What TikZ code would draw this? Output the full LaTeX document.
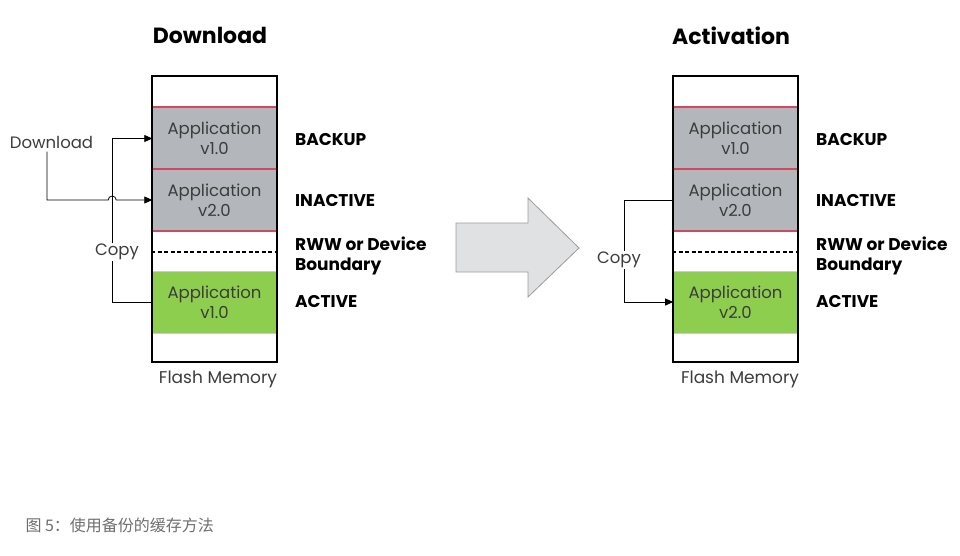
\documentclass[tikz,border=0pt]{standalone}
\usepackage{fontspec}
\setmainfont{Poppins}
\newfontfamily\cjkfont{Noto Sans CJK SC}
\usetikzlibrary{calc,arrows.meta}
\definecolor{blockgrey}{HTML}{B3B6BA}
\definecolor{blockgreen}{HTML}{8ECE4E}
\definecolor{partline}{HTML}{D2495F}
\definecolor{bodytext}{HTML}{3C3C3C}
\definecolor{arrowfill}{HTML}{DFE1E3}
\definecolor{arrowdraw}{HTML}{9A9C9E}
\definecolor{captiontext}{HTML}{6E6E6E}
\tikzstyle{flashbox} = [
    draw=black,
    line width=2pt,
    minimum width=125pt,
    minimum height=286pt,
    inner sep=0pt
    ]
\tikzstyle{appblock} = [
    minimum width=124pt,
    minimum height=62pt,
    inner sep=0pt,
    align=center,
    text=bodytext,
    font=\fontsize{16.5}{20}\selectfont
    ]
\tikzstyle{greyblock} = [appblock, fill=blockgrey]
\tikzstyle{greenblock} = [appblock, fill=blockgreen, draw=black!20, line width=0.6pt]
\tikzstyle{redline} = [draw=partline, line width=1.6pt]
\tikzstyle{boundary} = [draw=black, line width=1.8pt, dash pattern=on 4pt off 2.5pt]
\tikzstyle{statelabel} = [
    anchor=west,
    inner sep=0pt,
    align=left,
    font=\bfseries\fontsize{17}{20}\selectfont
    ]
\tikzstyle{fancytitle} = [font=\bfseries\fontsize{22}{24}\selectfont]
\tikzstyle{plaintext} = [text=bodytext, font=\fontsize{16.5}{18}\selectfont]
\tikzstyle{conn} = [draw=black, line width=0.8pt, -{Triangle[length=8pt,width=7pt]}]

\begin{document}
\begin{tikzpicture}[x=1pt,y=-1pt]
\useasboundingbox (0,0) rectangle (960,556);

% Download side
\node[fancytitle] (dltitle) at (210,35) {Download};
\node[flashbox] (dlbox) at (214.5,219) {};
\node[greyblock] (dlbackup) at (214.5,138.5) {Application\\v1.0};
\node[greyblock] (dlinactive) at (214.5,200) {Application\\v2.0};
\node[greenblock] (dlactive) at (214.5,302) {Application\\v1.0};
\draw[redline] (dlbackup.north west) -- (dlbackup.north east);
\draw[redline] (dlinactive.north west) -- (dlinactive.north east);
\draw[redline] (dlinactive.south west) -- (dlinactive.south east);
\draw[boundary] (dlbox.west |- 0,252) -- (dlbox.east |- 0,252);
\node[flashbox, fill=none] at (dlbox) {};
\node[statelabel] (dlbackuplbl) at (295,139.5) {BACKUP};
\node[statelabel] (dlinactivelbl) at (295,200.5) {INACTIVE};
\node[statelabel] (dlboundlbl) at (295,255.5) {RWW or Device\\Boundary};
\node[statelabel] (dlactivelbl) at (295,301.5) {ACTIVE};
\node[plaintext, font=\fontsize{17}{18}\selectfont] (dlflash) at (218,379) {Flash Memory};

\node[plaintext] (dltext) at (51.5,142) {Download};
\coordinate (dlhop) at ($(dlactive.west)+(-40,0)$);
\draw[conn] (dlactive.west) -- (dlhop) |- (dlbackup.west);
\draw[conn] ([xshift=-4.5pt]dltext.south) |- ($(dlhop |- dlinactive.west)+(-4,0)$)
    arc[start angle=180, end angle=0, radius=4pt] -- (dlinactive.west);
\node[plaintext, fill=white, inner sep=1pt] (dlcopy) at (117,252) {Copy};

% big arrow
\draw[draw=arrowdraw, fill=arrowfill, line width=0.8pt]
    (456,223) -- (528,223) -- (528,198) -- (579,248) -- (528,297) -- (528,272) -- (456,272) -- cycle;

% Activation side
\node[fancytitle] (actitle) at (731,36) {Activation};
\node[flashbox] (acbox) at (735.5,219) {};
\node[greyblock] (acbackup) at (735.5,138.5) {Application\\v1.0};
\node[greyblock] (acinactive) at (735.5,200) {Application\\v2.0};
\node[greenblock] (acactive) at (735.5,302) {Application\\v2.0};
\draw[redline] (acbackup.north west) -- (acbackup.north east);
\draw[redline] (acinactive.north west) -- (acinactive.north east);
\draw[redline] (acinactive.south west) -- (acinactive.south east);
\draw[boundary] (acbox.west |- 0,252) -- (acbox.east |- 0,252);
\node[flashbox, fill=none] at (acbox) {};
\node[statelabel] (acbackuplbl) at (816,139.5) {BACKUP};
\node[statelabel] (acinactivelbl) at (816,200.5) {INACTIVE};
\node[statelabel] (acboundlbl) at (816,255.5) {RWW or Device\\Boundary};
\node[statelabel] (acactivelbl) at (816,301.5) {ACTIVE};
\node[plaintext, font=\fontsize{17}{18}\selectfont] (acflash) at (740,379) {Flash Memory};

\draw[conn] (acinactive.west) -- ++(-49,0) |- (acactive.west);
\node[plaintext, fill=white, inner sep=1pt] (accopy) at (619,260) {Copy};

% caption
\node[anchor=west, text=captiontext, font=\cjkfont\fontsize{16}{18}\selectfont] (caption) at (22,525) {图 5：使用备份的缓存方法};
\end{tikzpicture}
\end{document}
